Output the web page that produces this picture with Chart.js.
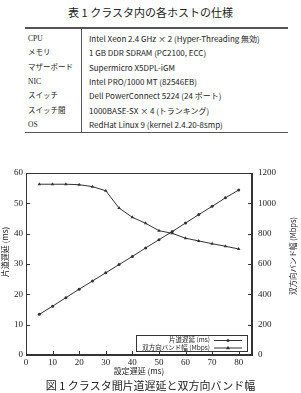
<!DOCTYPE html>
<html>
<head>
<meta charset="utf-8">
<script src="https://cdn.jsdelivr.net/npm/chart.js@4"></script>
<style>
body { margin: 0; width: 301px; height: 393px; background: #fff; position: relative; overflow: hidden;
       font-family: "Noto Sans CJK JP", sans-serif; color: #222; }
.cap { position: absolute; left: 0; width: 301px; text-align: center; font-size: 11px; line-height: 14px; }
#spec { position: absolute; left: 25px; top: 27px; width: 263px; border-collapse: collapse;
        border-top: 2px solid #555; border-bottom: 1px solid #555; font-size: 8px; }
#spec td { height: 14.3px; padding: 0 0 0 3px; white-space: nowrap; line-height: 10px; }
#spec td:first-child { width: 53px; border-right: 1px solid #555; font-family: "Liberation Serif", "Noto Sans CJK JP", serif; font-size: 7.5px; }
#spec td:last-child { padding-left: 7px; }
#spec tr:first-child td { padding-top: 3px; }
#wrap { position: absolute; left: 0; top: 160px; width: 301px; height: 220px; }
</style>
</head>
<body>
<div class="cap" style="top:5px">表 1 クラスタ内の各ホストの仕様</div>
<table id="spec"></table>
<div id="wrap"><canvas id="myChart"></canvas></div>
<div class="cap" style="top:378px">図 1 クラスタ間片道遅延と双方向バンド幅</div>
<script>
var specNames = ['CPU', 'メモリ', 'マザーボード', 'NIC', 'スイッチ', 'スイッチ間', 'OS'];
var specValues = [
    'Intel Xeon 2.4 GHz × 2 (Hyper-Threading 無効)',
    '1 GB DDR SDRAM (PC2100, ECC)',
    'Supermicro X5DPL-iGM',
    'Intel PRO/1000 MT (82546EB)',
    'Dell PowerConnect 5224 (24 ポート)',
    '1000BASE-SX × 4 (トランキング)',
    'RedHat Linux 9 (kernel 2.4.20-8smp)'
];

// 設定遅延 (ms)
var delays = [5, 10, 15, 20, 25, 30, 35, 40, 45, 50, 55, 60, 65, 70, 75, 80];
var latency = [13.4, 16.1, 18.9, 21.7, 24.4, 27.1, 29.8, 32.5, 35.3, 38.0, 40.7, 43.5, 46.3, 49.0, 51.8, 54.4];
var bandwidth = [1126, 1126, 1126, 1123, 1110, 1083, 969, 908, 868, 820, 802, 770, 752, 734, 717, 699];

var xTicks = [0, 10, 20, 30, 40, 50, 60, 70, 80];
var latencyTicks = [0, 10, 20, 30, 40, 50, 60];
var bandwidthTicks = [0, 200, 400, 600, 800, 1000, 1200];

var table = document.getElementById('spec');
specNames.forEach(function (name, i) {
    var tr = document.createElement('tr');
    tr.innerHTML = '<td>' + name + '</td><td>' + specValues[i] + '</td>';
    table.appendChild(tr);
});

var ink = '#333';
var tickFont = { family: 'Liberation Serif', size: 9 };
var plainLabel = function (v) { return String(v); };

var framePlugin = {
    id: 'frame',
    afterDraw: function (chart) {
        var c = chart.ctx, a = chart.chartArea;
        var x = chart.scales.x, y = chart.scales.y, y2 = chart.scales.y2;
        c.save();
        c.strokeStyle = ink;
        c.lineWidth = 1;
        c.strokeRect(a.left + 0.5, a.top + 0.5, a.right - a.left - 1, a.bottom - a.top - 1);
        // inward ticks
        c.beginPath();
        xTicks.forEach(function (v) {
            var px = Math.round(x.getPixelForValue(v)) + 0.5;
            c.moveTo(px, a.bottom); c.lineTo(px, a.bottom - 4);
        });
        latencyTicks.forEach(function (v) {
            var py = Math.round(y.getPixelForValue(v)) + 0.5;
            c.moveTo(a.left, py); c.lineTo(a.left + 4, py);
        });
        bandwidthTicks.forEach(function (v) {
            var py = Math.round(y2.getPixelForValue(v)) + 0.5;
            c.moveTo(a.right, py); c.lineTo(a.right - 4, py);
        });
        c.stroke();

        // axis titles
        c.fillStyle = '#222';
        c.textAlign = 'center';
        c.textBaseline = 'middle';
        c.font = '8px "Noto Sans CJK JP"';
        c.save();
        c.translate(5, a.top + 79);
        c.rotate(-Math.PI / 2);
        c.fillText('片道遅延 (ms)', 0, 0);
        c.restore();
        c.font = '7.5px "Noto Sans CJK JP"';
        c.save();
        c.translate(293, a.top + 83);
        c.rotate(-Math.PI / 2);
        c.fillText('双方向バンド幅 (Mbps)', 0, 0);
        c.restore();

        // legend box (gnuplot style)
        var bx0 = a.left + 110, bx1 = a.right - 4, by0 = a.bottom - 20, by1 = a.bottom - 3;
        c.fillStyle = '#fff';
        c.fillRect(bx0, by0, bx1 - bx0, by1 - by0);
        c.strokeRect(bx0 + 0.5, by0 + 0.5, bx1 - bx0 - 1, by1 - by0 - 1);
        var rows = [
            { text: '片道遅延 (ms)', style: 'circle' },
            { text: '双方向バンド幅 (Mbps)', style: 'triangle' }
        ];
        c.font = '6.5px "Noto Sans CJK JP"';
        c.textAlign = 'right';
        rows.forEach(function (r, i) {
            var ry = by0 + 5 + i * 7.5;
            c.fillStyle = '#222';
            c.fillText(r.text, bx1 - 38, ry);
            c.beginPath();
            c.moveTo(bx1 - 34, ry + 0.5); c.lineTo(bx1 - 6, ry + 0.5);
            c.stroke();
            c.fillStyle = ink;
            c.beginPath();
            if (r.style === 'circle') {
                c.arc(bx1 - 20, ry + 0.5, 1.5, 0, Math.PI * 2);
            } else {
                c.moveTo(bx1 - 20, ry - 1.7); c.lineTo(bx1 - 18, ry + 1.8); c.lineTo(bx1 - 22, ry + 1.8);
                c.closePath();
            }
            c.fill();
        });
        c.restore();
    }
};

var ctx = document.getElementById('myChart').getContext('2d');
var myChart = new Chart(ctx, {
    type: 'line',
    data: {
        labels: delays,
        datasets: [{
            label: '片道遅延 (ms)',
            data: delays.map(function (d, i) { return { x: d, y: latency[i] }; }),
            yAxisID: 'y',
            borderColor: ink,
            backgroundColor: ink,
            borderWidth: 1,
            pointStyle: 'circle',
            pointRadius: 1.5,
            pointBorderWidth: 0
        }, {
            label: '双方向バンド幅 (Mbps)',
            data: delays.map(function (d, i) { return { x: d, y: bandwidth[i] }; }),
            yAxisID: 'y2',
            borderColor: ink,
            backgroundColor: ink,
            borderWidth: 1,
            pointStyle: 'triangle',
            pointRadius: 2,
            pointBorderWidth: 0
        }]
    },
    options: {
        responsive: true,
        maintainAspectRatio: false,
        animation: false,
        layout: { padding: { top: 13, left: 0, right: 0, bottom: 0 } },
        plugins: {
            legend: { display: false },
            tooltip: { enabled: false }
        },
        scales: {
            x: {
                type: 'linear',
                min: 0,
                max: 85,
                afterBuildTicks: function (s) { s.ticks = xTicks.map(function (v) { return { value: v }; }); },
                afterFit: function (s) { s.height = 25; },
                grid: { drawOnChartArea: false, drawTicks: false },
                border: { color: ink },
                ticks: { font: tickFont, color: '#222', padding: 2, maxRotation: 0, callback: plainLabel },
                title: {
                    display: true,
                    text: '設定遅延 (ms)',
                    font: { family: 'Noto Sans CJK JP', size: 8 },
                    color: '#222',
                    padding: { top: 0, bottom: 4 }
                }
            },
            y: {
                position: 'left',
                min: 0,
                max: 60,
                afterBuildTicks: function (s) { s.ticks = latencyTicks.map(function (v) { return { value: v }; }); },
                afterFit: function (s) { s.width = 26; },
                grid: { drawOnChartArea: false, drawTicks: false },
                border: { color: ink },
                ticks: { font: tickFont, color: '#222', padding: 3, callback: plainLabel }
            },
            y2: {
                position: 'right',
                min: 0,
                max: 1200,
                afterBuildTicks: function (s) { s.ticks = bandwidthTicks.map(function (v) { return { value: v }; }); },
                afterFit: function (s) { s.width = 49; },
                grid: { drawOnChartArea: false, drawTicks: false },
                border: { color: ink },
                ticks: { font: tickFont, color: '#222', padding: 6, callback: plainLabel }
            }
        }
    },
    plugins: [framePlugin]
});
</script>
</body>
</html>
